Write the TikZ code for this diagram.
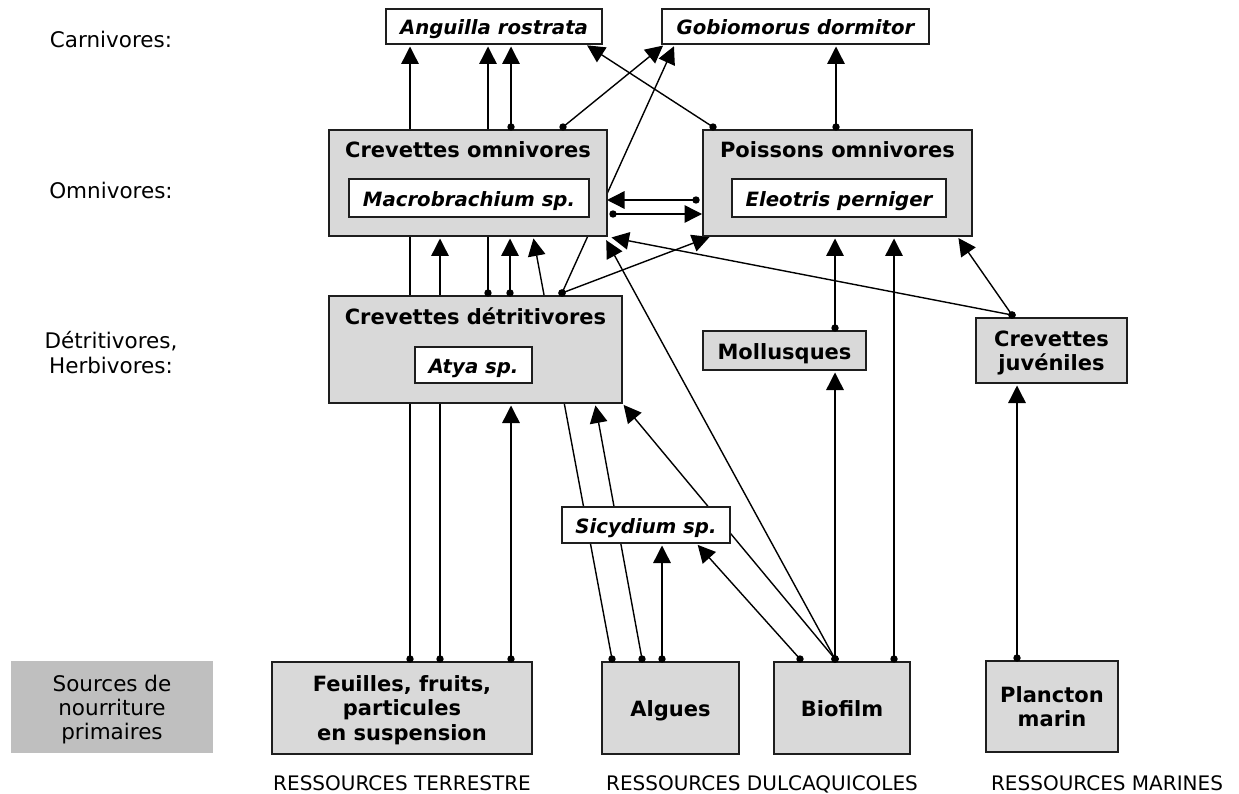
\documentclass[tikz,border=0pt]{standalone}
\usepackage{fontspec}
\setmainfont{DejaVu Sans}
\usetikzlibrary{arrows.meta,calc}
\definecolor{boxgray}{RGB}{217,217,217}
\definecolor{srcgray}{RGB}{191,191,191}
\definecolor{edgecol}{RGB}{30,30,30}
\pgfdeclarelayer{bg}\pgfdeclarelayer{fg}
\pgfsetlayers{bg,main,fg}
\newcommand{\flow}[2]{%
  \begin{pgfonlayer}{bg}\draw[link] #1 -- #2;\end{pgfonlayer}%
  \begin{pgfonlayer}{fg}\fill[black] #1 circle (3.7pt);\end{pgfonlayer}}
\begin{document}
\begin{tikzpicture}[x=1pt,y=-1pt,
  gbox/.style={draw=edgecol, line width=1.5pt, fill=boxgray, inner sep=0pt, outer sep=0pt,
    font=\bfseries\fontsize{21}{24.5}\selectfont, align=center, text depth=0pt},
  one/.style={text height=17pt, text depth=0pt},
  wbox/.style={draw=edgecol, line width=1.5pt, fill=white, inner sep=0pt, outer sep=0pt,
    font=\bfseries\itshape\fontsize{19.7}{24}\selectfont, text height=17pt, text depth=0pt},
  ttl/.style={font=\bfseries\fontsize{21}{25}\selectfont, inner sep=0pt, anchor=base},
  lbl/.style={font=\fontsize{21.5}{25}\selectfont, align=center, inner sep=0pt, anchor=base},
  res/.style={font=\fontsize{20}{24}\selectfont, inner sep=0pt, anchor=base},
  link/.style={line width=1.4pt, draw=black, -{Triangle[length=17.5pt,width=17.5pt]}, shorten >=2.5pt},
  hlink/.style={link, shorten >=0pt}
]
\useasboundingbox (0,0) rectangle (1239,794);
\begin{pgfonlayer}{bg}
\fill[white] (0,0) rectangle (1239,794);
\end{pgfonlayer}

% left labels
\node[lbl] (lcarn) at (111,47.7) {Carnivores:};
\node[lbl] (lomni) at (111,198.3) {Omnivores:};
\node[lbl] (ldet) at (111,348.3) {Détritivores,};
\node[lbl] (lherb) at (111,373.3) {Herbivores:};
\node[fill=srcgray, inner sep=0pt, outer sep=0pt, minimum width=202, minimum height=92,
  font=\fontsize{21.5}{24}\selectfont, align=center, text depth=0pt] (src) at (112,707)
  {Sources de\\nourriture\\primaires};

% carnivores
\node[wbox, minimum width=216, minimum height=35] (ang) at (494,26.5) {Anguilla rostrata};
\node[wbox, minimum width=267, minimum height=35] (gob) at (795.5,26.5) {Gobiomorus dormitor};

% omnivores
\node[gbox, minimum width=278, minimum height=106] (co) at (468,183) {};
\node[ttl] (cot) at (468,157.3) {Crevettes omnivores};
\node[wbox, minimum width=240, minimum height=38] (mac) at (469,198) {Macrobrachium sp.};
\node[gbox, minimum width=269, minimum height=106] (po) at (837.5,183) {};
\node[ttl] (pot) at (837.5,157.5) {Poissons omnivores};
\node[wbox, minimum width=214, minimum height=38] (ele) at (839,198) {Eleotris perniger};

% detritivores
\node[gbox, minimum width=293, minimum height=107] (cd) at (475.5,349.5) {};
\node[ttl] (cdt) at (475.5,324) {Crevettes détritivores};
\node[wbox, minimum width=117, minimum height=36] (atya) at (473.5,365) {Atya sp.};
\node[gbox, one, minimum width=163, minimum height=39] (mol) at (784.5,350.5) {Mollusques};
\node[gbox, minimum width=151, minimum height=65] (cj) at (1051.5,350.5) {Crevettes\\juvéniles};
\node[wbox, minimum width=168, minimum height=36] (sic) at (646,525) {Sicydium sp.};

% sources
\node[gbox, minimum width=260, minimum height=92] (feu) at (402,708) {Feuilles, fruits,\\particules\\en suspension};
\node[gbox, one, minimum width=137, minimum height=92] (alg) at (670.5,708) {Algues};
\node[gbox, one, minimum width=136, minimum height=92] (bio) at (842,708) {Biofilm};
\node[gbox, minimum width=132, minimum height=91] (pla) at (1052,706.5) {Plancton\\marin};

\node[res] (rter) at (402,790) {RESSOURCES TERRESTRE};
\node[res] (rdul) at (762,790) {RESSOURCES DULCAQUICOLES};
\node[res] (rmar) at (1107,790) {RESSOURCES MARINES};

% connectors
\flow{($(410,0 |- feu.north)+(0,-3)$)}{(410,0 |- ang.south)}
\flow{($(440,0 |- feu.north)+(0,-3)$)}{(440,0 |- co.south)}
\flow{($(511,0 |- feu.north)+(0,-3)$)}{(511,0 |- cd.south)}
\flow{($(511,0 |- co.north)+(0,-3)$)}{(511,0 |- ang.south)}
\flow{($(488,0 |- cd.north)+(0,-3)$)}{(488,0 |- ang.south)}
\flow{($(510,0 |- cd.north)+(0,-3)$)}{(510,0 |- co.south)}
\flow{($(563,0 |- co.north)+(0,-3)$)}{($(gob.south west)+(3,0)$)}
\flow{($(562,0 |- cd.north)+(0,-3)$)}{($(gob.south west)+(13,0)$)}
\flow{($(562,0 |- cd.north)+(0,-3)$)}{($(po.south west)+(9,0)$)}
\begin{pgfonlayer}{bg}
\draw[hlink] ($(po.west |- 0,200)+(-7,0)$) -- (co.east |- 0,200);
\draw[hlink, shorten >=1pt] ($(co.east |- 0,214)+(6,0)$) -- (po.west |- 0,214);
\end{pgfonlayer}
\begin{pgfonlayer}{fg}
\fill ($(po.west |- 0,200)+(-7,0)$) circle (3.7pt);
\fill ($(co.east |- 0,214)+(6,0)$) circle (3.7pt);
\end{pgfonlayer}
\flow{($(713,0 |- po.north)+(0,-3)$)}{($(ang.south east)+(-17,0)$)}
\flow{($(836,0 |- po.north)+(0,-3)$)}{(836,0 |- gob.south)}
\flow{($(835,0 |- mol.north)+(0,-3)$)}{(835,0 |- po.south)}
\flow{($(894,0 |- bio.north)+(0,-3)$)}{(894,0 |- po.south)}
\flow{($(835,0 |- bio.north)+(0,-3)$)}{(835,0 |- mol.south)}
\flow{($(1012,0 |- cj.north)+(0,-3)$)}{($(po.south east)+(-15,0)$)}
\flow{($(1012,0 |- cj.north)+(0,-3)$)}{($(co.south east)+(2,1)$)}
\flow{($(1017,0 |- pla.north)+(0,-3)$)}{(1017,0 |- cj.south)}
\flow{($(612,0 |- alg.north)+(0,-3)$)}{(533,0 |- co.south)}
\flow{($(642,0 |- alg.north)+(0,-3)$)}{(595,0 |- cd.south)}
\flow{($(662,0 |- alg.north)+(0,-3)$)}{(662,0 |- sic.south)}
\flow{($(835,0 |- bio.north)+(0,-3)$)}{(cd.south east)}
\flow{($(800,0 |- bio.north)+(0,-3)$)}{(696,0 |- sic.south)}
\flow{($(835,0 |- bio.north)+(0,-3)$)}{($(co.south east)+(-2,2)$)}
\end{tikzpicture}
\end{document}
